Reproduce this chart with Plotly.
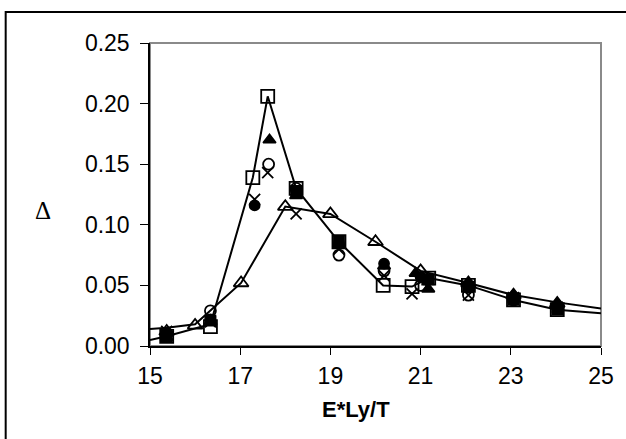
import plotly.graph_objects as go

# Smooth guide curves drawn across the whole range
curve_upper_x = [15.0, 15.37, 16.0, 17.02, 18.0, 19.0, 20.0, 21.0, 22.06, 23.06, 24.03, 25.0]
curve_upper_y = [0.014, 0.015, 0.018, 0.052, 0.115, 0.109, 0.086, 0.062, 0.052, 0.042, 0.036, 0.031]
curve_lower_x = [15.0, 15.37, 16.34, 17.28, 17.61, 18.24, 19.19, 20.17, 20.81, 21.18, 22.06, 23.06, 24.03, 25.0]
curve_lower_y = [0.005, 0.008, 0.018, 0.139, 0.206, 0.130, 0.086, 0.050, 0.049, 0.056, 0.050, 0.038, 0.030, 0.027]

# Measured points
sq_open_x = [15.37, 16.34, 17.28, 17.61, 18.24, 19.19, 20.17, 20.81, 21.18, 22.06, 23.06, 24.03]
sq_open_y = [0.008, 0.016, 0.139, 0.206, 0.130, 0.086, 0.050, 0.049, 0.056, 0.050, 0.038, 0.030]
sq_fill_x = [15.37, 16.34, 18.24, 19.19, 21.18, 22.06, 23.06, 24.03]
sq_fill_y = [0.008, 0.021, 0.128, 0.086, 0.055, 0.049, 0.038, 0.030]
tri_fill_x = [15.37, 16.34, 17.65, 18.24, 19.19, 20.19, 20.89, 21.17, 22.06, 23.06, 24.03]
tri_fill_y = [0.007, 0.020, 0.170, 0.124, 0.084, 0.066, 0.060, 0.047, 0.052, 0.042, 0.035]
circ_open_x = [15.37, 16.34, 17.63, 18.24, 19.19, 20.19, 21.0, 22.06, 23.06, 24.03]
circ_open_y = [0.010, 0.029, 0.150, 0.130, 0.075, 0.062, 0.050, 0.042, 0.038, 0.032]
circ_fill_x = [15.37, 16.34, 17.32, 18.24, 19.19, 20.19, 21.0, 22.06, 23.06, 24.03]
circ_fill_y = [0.010, 0.022, 0.116, 0.128, 0.085, 0.068, 0.057, 0.048, 0.040, 0.033]
cross_x = [15.37, 16.34, 17.32, 17.61, 18.24, 19.19, 20.19, 20.81, 22.06, 23.06, 24.03]
cross_y = [0.012, 0.020, 0.121, 0.143, 0.109, 0.080, 0.058, 0.043, 0.042, 0.040, 0.032]
tri_open_x = [15.37, 16.0, 17.02, 18.0, 19.0, 20.0, 21.0, 22.06, 23.06, 24.03]
tri_open_y = [0.012, 0.017, 0.052, 0.115, 0.109, 0.086, 0.062, 0.052, 0.042, 0.035]

x_ticks = [15, 17, 19, 21, 23, 25]
y_ticks = [0.00, 0.05, 0.10, 0.15, 0.20, 0.25]
x_title = "E*Ly/T"
y_title = "Δ"

fig = go.Figure()

for cx, cy in [(curve_upper_x, curve_upper_y), (curve_lower_x, curve_lower_y)]:
    fig.add_trace(go.Scatter(x=cx, y=cy, mode="lines",
                             line=dict(color="black", width=2), showlegend=False))

def add_points(x, y, symbol, size):
    fig.add_trace(go.Scatter(
        x=x, y=y, mode="markers", showlegend=False,
        marker=dict(symbol=symbol, size=size, color="black",
                    line=dict(color="black", width=1.8)),
    ))

# hollow markers first, solid ones on top
add_points(sq_open_x, sq_open_y, "square-open", 13)
add_points(tri_open_x, tri_open_y, "triangle-up-open", 13)
add_points(circ_open_x, circ_open_y, "circle-open", 11)
add_points(cross_x, cross_y, "x-thin-open", 11)
add_points(sq_fill_x, sq_fill_y, "square", 10)
add_points(circ_fill_x, circ_fill_y, "circle", 10)
add_points(tri_fill_x, tri_fill_y, "triangle-up", 11)

font_main = "Liberation Sans, Arial, sans-serif"

fig.update_layout(
    width=626, height=439,
    margin=dict(l=150, r=23, t=43, b=93),
    paper_bgcolor="white", plot_bgcolor="white",
    font=dict(family=font_main, size=23, color="black"),
    xaxis=dict(range=[15, 25], tickvals=x_ticks, ticktext=[str(v) for v in x_ticks],
               showgrid=False, zeroline=False, showline=True, linecolor="black", linewidth=1.5,
               ticks="outside", ticklen=7, tickcolor="black", ticklabelstandoff=2),
    yaxis=dict(range=[0, 0.25], tickvals=y_ticks, ticktext=[f"{v:.2f}" for v in y_ticks],
               showgrid=False, zeroline=False, showline=True, linecolor="black", linewidth=1.5,
               ticks="outside", ticklen=8, tickcolor="black", ticklabelstandoff=6),
)

# Gray frame around the plot area
fig.add_shape(type="rect", xref="paper", yref="paper", x0=0, y0=0, x1=1, y1=1,
              line=dict(color="#8a8a8a", width=2), layer="below")
# Outer frame around the whole chart
fig.add_shape(type="rect", xref="paper", yref="paper", x0=-0.32, y0=-0.40, x1=1.10, y1=1.102,
              line=dict(color="black", width=2))

# Axis titles
fig.add_annotation(text=f"<b>{x_title}</b>", xref="paper", yref="paper",
                   x=(357 - 150) / 453, y=(346 - 410) / 303,
                   xanchor="center", yanchor="middle", showarrow=False,
                   font=dict(family=font_main, size=22))
fig.add_annotation(text=y_title, xref="paper", yref="paper", x=(43 - 150) / 453, y=(346 - 210) / 303,
                   xanchor="center", yanchor="middle", showarrow=False,
                   font=dict(family="Liberation Serif, Times New Roman, serif", size=25))

fig.write_html("out.html")
